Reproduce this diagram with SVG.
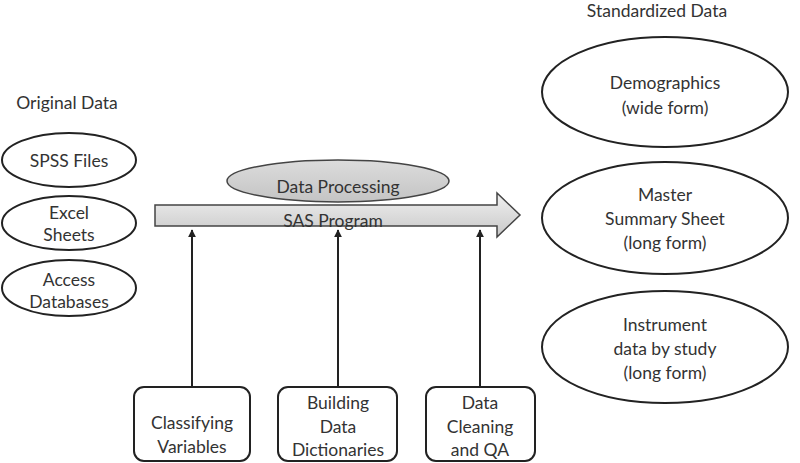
<svg xmlns="http://www.w3.org/2000/svg" width="800" height="463" viewBox="0 0 800 463">
<defs>
<style>
text{font-family:Lato,"Open Sans","Liberation Sans",sans-serif;font-size:17.5px;fill:#333;text-anchor:middle}
.el{fill:#fff;stroke:#222;stroke-width:2}
.bx{fill:#fff;stroke:#222;stroke-width:2}
.cn{stroke:#222;stroke-width:2;fill:none;marker-end:url(#ah)}
</style>
<marker id="ah" viewBox="0 0 10 10" refX="9" refY="5" markerWidth="4" markerHeight="4" orient="auto"><path d="M0,0L10,5L0,10z" fill="#222"/></marker>
<linearGradient id="ag" x1="0" y1="0" x2="0" y2="1"><stop offset="0" stop-color="#f0f0f0"/><stop offset="1" stop-color="#c8c8c8"/></linearGradient>
<linearGradient id="eg" x1="0" y1="0" x2="0" y2="1"><stop offset="0" stop-color="#dcdcdc"/><stop offset="1" stop-color="#c4c4c4"/></linearGradient>
</defs>
<rect width="800" height="463" fill="#fff"/>
<text x="67" y="109">Original Data</text>
<text x="657" y="17">Standardized Data</text>
<g id="spss"><ellipse class="el" cx="69" cy="160" rx="67" ry="27"/><text x="69" y="167">SPSS Files</text></g>
<g id="excel"><ellipse class="el" cx="69" cy="223" rx="67" ry="27"/><text x="69" y="219">Excel</text><text x="69" y="241">Sheets</text></g>
<g id="access"><ellipse class="el" cx="69" cy="288" rx="67" ry="28"/><text x="69" y="286">Access</text><text x="69" y="308">Databases</text></g>
<g id="sas"><path d="M155,205H497V193L520,215L497,237V226H155Z" fill="url(#ag)" stroke="#444" stroke-width="1.5"/><text x="333" y="227">SAS Program</text></g>
<g id="processing"><ellipse cx="338" cy="181" rx="111" ry="21" fill="url(#eg)" stroke="#444" stroke-width="1.5"/><text x="338" y="193">Data Processing</text></g>
<g id="demo"><ellipse class="el" cx="665" cy="92" rx="123" ry="55"/><text x="665" y="89">Demographics</text><text x="665" y="114">(wide form)</text></g>
<g id="master"><ellipse class="el" cx="665" cy="218" rx="123" ry="56"/><text x="665" y="201">Master</text><text x="665" y="225">Summary Sheet</text><text x="665" y="249">(long form)</text></g>
<g id="instrument"><ellipse class="el" cx="665" cy="347" rx="123" ry="56"/><text x="665" y="331">Instrument</text><text x="665" y="355">data by study</text><text x="665" y="379">(long form)</text></g>
<g id="classify"><rect class="bx" x="134" y="387" width="116" height="74" rx="10"/><text x="192" y="429">Classifying</text><text x="192" y="453">Variables</text></g>
<g id="building"><rect class="bx" x="278" y="387" width="119" height="74" rx="10"/><text x="338" y="409">Building</text><text x="338" y="433">Data</text><text x="338" y="456">Dictionaries</text></g>
<g id="cleaning"><rect class="bx" x="426" y="387" width="109" height="74" rx="10"/><text x="480" y="409">Data</text><text x="480" y="433">Cleaning</text><text x="480" y="456">and QA</text></g>
<g id="connectors">
<line class="cn" x1="192" y1="387" x2="192" y2="230"/>
<line class="cn" x1="338" y1="387" x2="338" y2="230"/>
<line class="cn" x1="480" y1="387" x2="480" y2="230"/>
</g>
</svg>
